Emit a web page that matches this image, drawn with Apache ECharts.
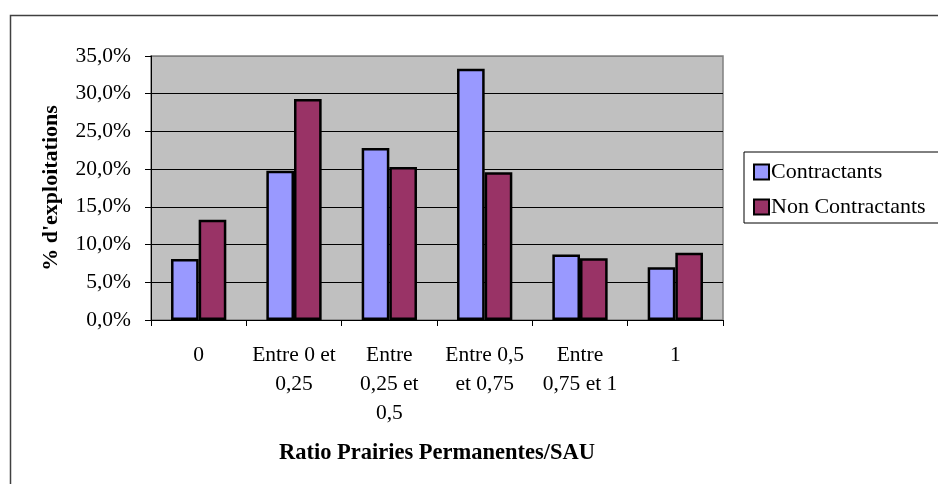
<!DOCTYPE html>
<html><head><meta charset="utf-8">
<script src="https://cdn.jsdelivr.net/npm/echarts@6/dist/echarts.min.js"></script>
<style>html,body{margin:0;padding:0;background:#fff}#c{width:938px;height:484px}</style>
</head><body><div id="c"></div>
<script>
const categories = ["0", "Entre 0 et\n0,25", "Entre\n0,25 et\n0,5", "Entre 0,5\net 0,75", "Entre\n0,75 et 1", "1"];
const contractants = [8.1, 19.8, 22.8, 33.3, 8.7, 7.0];
const nonContractants = [13.3, 29.3, 20.3, 19.6, 8.2, 8.9];
const seriesNames = ["Contractants", "Non Contractants"];
const yTicks = [0, 5, 10, 15, 20, 25, 30, 35];

const font = "'Liberation Serif', 'Times New Roman', serif";
const fs = 21.5;
const chart = echarts.init(document.getElementById('c'), null, {renderer: 'canvas'});
chart.setOption({
  animation: false,
  textStyle: {fontFamily: font},
  graphic: [{
    type: 'rect', shape: {x: 10.5, y: 15.5, width: 940, height: 480},
    style: {fill: 'none', stroke: '#404040', lineWidth: 1.5}, z: -10
  }],
  grid: {left: 151, top: 56, right: 215, bottom: 164, show: true,
    backgroundColor: '#c0c0c0', borderColor: '#808080', borderWidth: 1.5},
  legend: {
    orient: 'vertical', left: 744, top: 152,
    data: seriesNames,
    itemWidth: 15, itemHeight: 15, itemGap: 13,
    padding: [9, 20, 5, 9],
    backgroundColor: '#fff', borderColor: '#000', borderWidth: 1,
    textStyle: {fontFamily: font, fontSize: 22, color: '#000', padding: [0, 0, 0, -3]},
    icon: 'rect',
    itemStyle: {borderColor: '#000', borderWidth: 2}
  },
  xAxis: {
    type: 'category', data: categories,
    name: 'Ratio Prairies Permanentes/SAU', nameLocation: 'middle', nameGap: 122,
    nameTextStyle: {fontFamily: font, fontSize: 22.5, fontWeight: 'bold', color: '#000'},
    axisLine: {lineStyle: {color: '#000', width: 1}},
    axisTick: {show: true, length: 6, lineStyle: {color: '#000'}},
    axisLabel: {interval: 0, fontFamily: font, fontSize: fs, color: '#000', lineHeight: 29, margin: 21}
  },
  yAxis: {
    type: 'value', min: yTicks[0], max: yTicks[yTicks.length - 1], interval: 5,
    name: "% d'exploitations", nameLocation: 'middle', nameGap: 89, nameRotate: 90,
    nameTextStyle: {fontFamily: font, fontSize: 22, fontWeight: 'bold', color: '#000'},
    axisLine: {show: true, lineStyle: {color: '#000', width: 1}},
    axisTick: {show: true, length: 6, lineStyle: {color: '#000'}},
    axisLabel: {fontFamily: font, fontSize: fs, color: '#000', margin: 20,
      formatter: v => v.toFixed(1).replace('.', ',') + '%'},
    splitLine: {show: true, lineStyle: {color: ['#000','#000','#000','#000','#000','#000','#000','#808080'], width: 1}}
  },
  series: [
    {name: seriesNames[0], type: 'bar', data: contractants, barGap: '0%', barCategoryGap: '42%',
     itemStyle: {color: '#9999ff', borderColor: '#000', borderWidth: 2.5}},
    {name: seriesNames[1], type: 'bar', data: nonContractants, barGap: '0%', barCategoryGap: '42%',
     itemStyle: {color: '#993366', borderColor: '#000', borderWidth: 2.5}}
  ]
});
</script></body></html>
